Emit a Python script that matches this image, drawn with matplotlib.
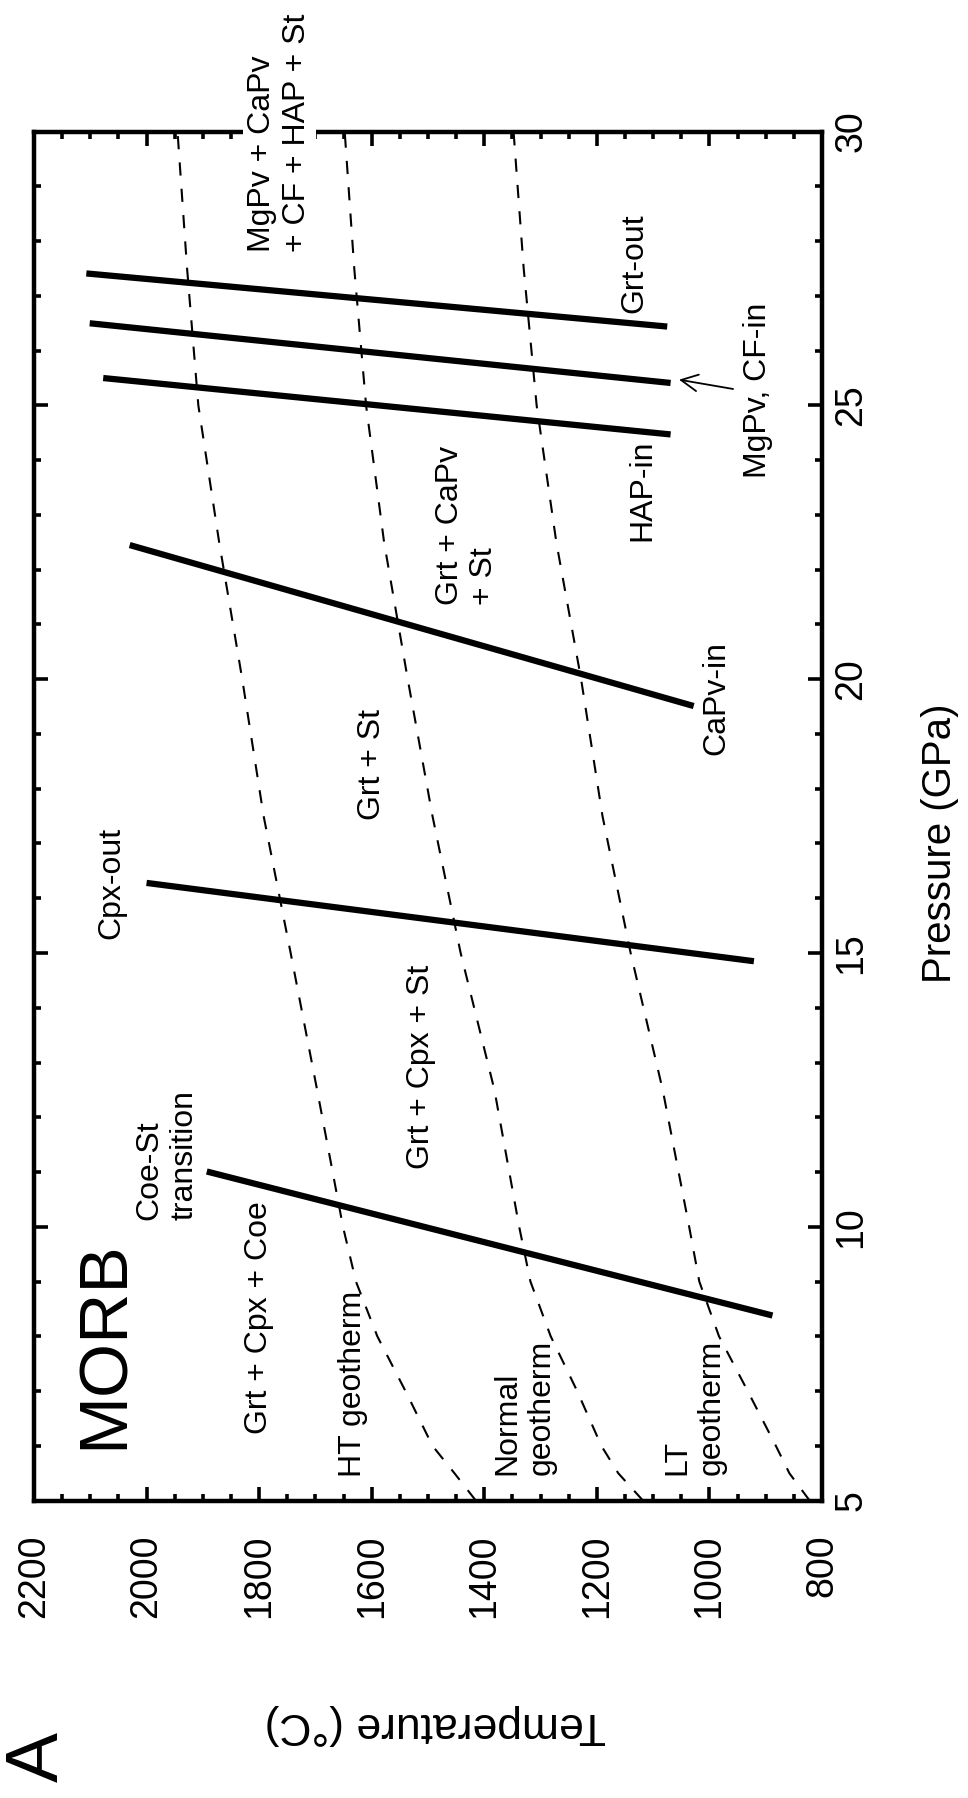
import matplotlib
matplotlib.use("Agg")
import matplotlib.pyplot as plt
from matplotlib.ticker import MultipleLocator

plt.rcParams['font.family'] = ['Liberation Sans', 'DejaVu Sans']
plt.rcParams['lines.scale_dashes'] = False

# geotherms: temperature (C) at each pressure (GPa)
geo_pressure = [5, 5.5, 6, 7, 8, 9, 10, 12.5, 15, 17.5, 20, 22.5, 25, 27.5, 30]
ht_geotherm = [1415, 1453, 1492, 1540, 1590, 1628, 1651, 1697, 1744, 1792, 1830, 1871, 1908, 1928, 1945]
normal_geotherm = [1118, 1162, 1192, 1235, 1282, 1318, 1338, 1382, 1442, 1492, 1536, 1578, 1610, 1631, 1648]
lt_geotherm = [822, 858, 882, 932, 983, 1018, 1036, 1083, 1140, 1190, 1228, 1272, 1307, 1330, 1348]

# phase boundaries: end points (low T end, high T end)
boundary_names = ["Coe-St", "Cpx-out", "CaPv-in", "HAP-in", "MgPv, CF-in", "Grt-out"]
boundary_p = [[8.38, 11.01], [14.85, 16.28], [19.51, 22.45],
              [24.47, 25.50], [25.41, 26.50], [26.44, 27.41]]
boundary_t = [[888, 1893], [921, 2000], [1028, 2030],
              [1069, 2077], [1069, 2101], [1075, 2107]]

# field / curve labels: text, T, P, vertical anchor
field_labels = [
    ("Grt + Cpx + Coe", 1800, 8.35, "center"),
    ("HT geotherm", 1633, 5.43, "bottom"),
    ("Normal\ngeotherm", 1328, 5.47, "bottom"),
    ("LT\ngeotherm", 1027, 5.47, "bottom"),
    ("Coe-St\ntransition", 1964, 10.13, "bottom"),
    ("Grt + Cpx + St", 1512, 12.92, "center"),
    ("Cpx-out", 2063, 16.28, "center"),
    ("Grt + St", 1600, 18.45, "center"),
    ("Grt + CaPv\n+ St", 1431, 21.36, "bottom"),
    ("CaPv-in", 988, 19.66, "center"),
    ("HAP-in", 1120, 23.45, "center"),
    ("MgPv, CF-in", 914, 25.28, "center"),
    ("Grt-out", 1134, 27.60, "center"),
]

fig = plt.figure(figsize=(9.68, 17.98), dpi=100)
ax = fig.add_axes([0.0351, 0.1654, 0.8141, 0.7614])

# dashed geotherms
for temps in [ht_geotherm, normal_geotherm, lt_geotherm]:
    ax.plot(temps, geo_pressure, color='black', lw=1.5,
            linestyle=(0, (9.5, 9.5)), zorder=2)

# solid reaction lines
for name, p, t in zip(boundary_names, boundary_p, boundary_t):
    ax.plot(t, p, color='black', lw=4.5, solid_capstyle='butt', zorder=3)

for text, t, p, va in field_labels:
    ax.text(t, p, text, rotation=90, ha='center', va=va,
            multialignment='left', fontsize=23)

# assemblage label sitting over the top frame
ax.text(1764, 27.80, "MgPv + CaPv\n+ CF + HAP + St", rotation=90,
        ha='center', va='bottom', multialignment='left', fontsize=23,
        bbox=dict(facecolor='white', edgecolor='none', pad=3), zorder=6,
        clip_on=False)

ax.text(2074, 7.84, "MORB", rotation=90, ha='center', va='center', fontsize=50)

ax.annotate("", xy=(1054, 25.47), xytext=(958, 25.30),
            arrowprops=dict(arrowstyle='->, head_length=0.6, head_width=0.3',
                            lw=1.3, color='black', mutation_scale=20,
                            shrinkA=0, shrinkB=0))

ax.set_xlim(2200, 800)
ax.set_ylim(5, 30)
ax.xaxis.set_major_locator(MultipleLocator(200))
ax.xaxis.set_minor_locator(MultipleLocator(50))
ax.yaxis.set_major_locator(MultipleLocator(5))
ax.yaxis.set_minor_locator(MultipleLocator(1))

ax.tick_params(which='both', direction='in', top=True, bottom=True,
               left=True, right=True, labelbottom=True, labeltop=False,
               labelleft=False, labelright=True, width=2.6)
ax.tick_params(which='major', length=10)
ax.tick_params(which='minor', length=5)
ax.tick_params(axis='x', labelsize=27, pad=24.5, labelrotation=90)
ax.tick_params(axis='y', labelsize=27, pad=8, labelrotation=90)
plt.setp(ax.get_xticklabels(), ha='center', va='top')
plt.setp(ax.get_yticklabels(), ha='left', va='center')

for s in ax.spines.values():
    s.set_linewidth(3.2)

fig.text(940 / 968, 1 - 843 / 1798, "Pressure (GPa)", rotation=90,
         ha='center', va='center', fontsize=29)
fig.text(435 / 968, 1 - 1725 / 1798, "Temperature (\u00b0C)", rotation=180,
         ha='center', va='center', fontsize=32)
fig.text(38 / 968, 1 - 1757 / 1798, "A", rotation=90,
         ha='center', va='center', fontsize=54)

fig.savefig("out.png", dpi=100)
